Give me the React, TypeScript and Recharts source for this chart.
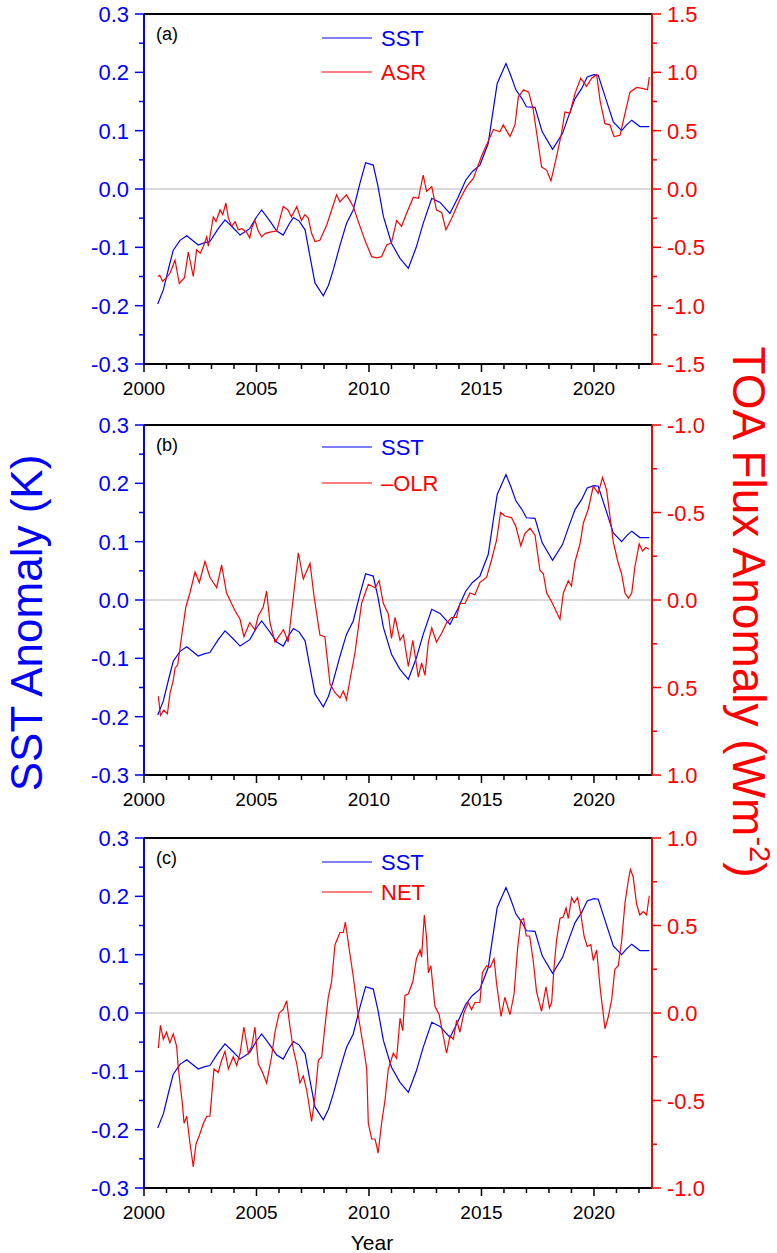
import React from 'react';
import { LineChart, Line, XAxis, YAxis, ReferenceLine } from 'recharts';

const FONT = '"Liberation Sans", Arial, Helvetica, sans-serif';
const BLUE = '#0000ff';
const RED = '#ff0000';

// tick positions (minor + major)
const YEAR_TICKS = [2000, 2001, 2002, 2003, 2004, 2005, 2006, 2007, 2008, 2009, 2010, 2011, 2012, 2013, 2014, 2015, 2016, 2017, 2018, 2019, 2020, 2021, 2022];
const SST_TICKS = [-0.3, -0.25, -0.2, -0.15, -0.1, -0.05, 0, 0.05, 0.1, 0.15, 0.2, 0.25, 0.3];
const ASR_TICKS = [-1.5, -1.25, -1, -0.75, -0.5, -0.25, 0, 0.25, 0.5, 0.75, 1, 1.25, 1.5];
const FLUX_TICKS = [-1, -0.75, -0.5, -0.25, 0, 0.25, 0.5, 0.75, 1];

// [year, anomaly]
const SST: [number, number][] = [
    [2000.61, -0.197], [2000.86, -0.173], [2001.1, -0.135], [2001.3, -0.105], [2001.6, -0.088], [2001.9, -0.08],
    [2002.15, -0.088], [2002.41, -0.096], [2002.7, -0.092], [2002.93, -0.09], [2003.3, -0.068], [2003.6, -0.053],
    [2003.95, -0.066], [2004.27, -0.079], [2004.7, -0.068], [2005.0, -0.048], [2005.23, -0.036], [2005.6, -0.055],
    [2005.9, -0.072], [2006.19, -0.079], [2006.45, -0.06], [2006.64, -0.049], [2006.9, -0.055], [2007.16, -0.07],
    [2007.35, -0.11], [2007.6, -0.161], [2007.97, -0.183], [2008.2, -0.165], [2008.41, -0.139], [2008.7, -0.098],
    [2009.0, -0.059], [2009.3, -0.036], [2009.6, 0.01], [2009.85, 0.045], [2010.19, 0.041], [2010.4, 0.005],
    [2010.64, -0.047], [2011.0, -0.093], [2011.38, -0.119], [2011.75, -0.136], [2012.1, -0.1], [2012.41, -0.059],
    [2012.79, -0.016], [2013.16, -0.023], [2013.6, -0.042], [2013.95, -0.015], [2014.3, 0.015], [2014.6, 0.03],
    [2014.93, 0.041], [2015.3, 0.078], [2015.5, 0.13], [2015.7, 0.181], [2016.09, 0.215], [2016.3, 0.195],
    [2016.53, 0.17], [2016.8, 0.155], [2017.0, 0.141], [2017.38, 0.14], [2017.7, 0.098], [2018.16, 0.068],
    [2018.6, 0.095], [2018.9, 0.128], [2019.16, 0.155], [2019.45, 0.172], [2019.7, 0.192], [2020.0, 0.196],
    [2020.19, 0.195], [2020.5, 0.158], [2020.86, 0.115], [2021.23, 0.1], [2021.45, 0.11], [2021.68, 0.118],
    [2022.04, 0.107], [2022.46, 0.107],
];

const ASR: [number, number][] = [
    [2000.61, -0.75], [2000.7, -0.74], [2000.83, -0.79], [2001.0, -0.76], [2001.16, -0.72], [2001.38, -0.61],
    [2001.57, -0.81], [2001.8, -0.76], [2001.97, -0.54], [2002.19, -0.75], [2002.34, -0.52], [2002.5, -0.55],
    [2002.64, -0.49], [2002.79, -0.41], [2002.86, -0.49], [2003.08, -0.24], [2003.2, -0.28], [2003.38, -0.18],
    [2003.5, -0.22], [2003.64, -0.12], [2003.75, -0.25], [2003.9, -0.32], [2004.05, -0.28], [2004.19, -0.35],
    [2004.35, -0.34], [2004.56, -0.37], [2004.7, -0.42], [2004.8, -0.33], [2004.93, -0.27], [2005.08, -0.36],
    [2005.23, -0.41], [2005.4, -0.38], [2005.6, -0.37], [2005.9, -0.36], [2006.05, -0.25], [2006.19, -0.15],
    [2006.4, -0.18], [2006.55, -0.24], [2006.79, -0.15], [2007.0, -0.27], [2007.15, -0.22], [2007.3, -0.25],
    [2007.45, -0.38], [2007.6, -0.45], [2007.82, -0.44], [2008.0, -0.36], [2008.12, -0.31], [2008.34, -0.18],
    [2008.56, -0.05], [2008.71, -0.11], [2008.85, -0.08], [2009.0, -0.05], [2009.15, -0.1], [2009.3, -0.15],
    [2009.6, -0.32], [2009.82, -0.44], [2010.12, -0.58], [2010.34, -0.59], [2010.56, -0.58], [2010.79, -0.48],
    [2011.0, -0.46], [2011.23, -0.27], [2011.45, -0.32], [2011.67, -0.21], [2011.97, -0.07], [2012.2, -0.08],
    [2012.41, 0.12], [2012.56, -0.02], [2012.79, 0.02], [2013.0, -0.18], [2013.23, -0.2], [2013.42, -0.35],
    [2013.68, -0.25], [2014.04, -0.09], [2014.34, 0.02], [2014.64, 0.09], [2015.0, 0.28], [2015.3, 0.41],
    [2015.53, 0.51], [2015.82, 0.49], [2015.97, 0.55], [2016.27, 0.45], [2016.49, 0.55], [2016.64, 0.79],
    [2016.87, 0.85], [2017.1, 0.83], [2017.3, 0.68], [2017.5, 0.42], [2017.67, 0.19], [2017.9, 0.16],
    [2018.09, 0.07], [2018.34, 0.28], [2018.56, 0.48], [2018.71, 0.66], [2018.93, 0.65], [2019.16, 0.82],
    [2019.41, 0.95], [2019.67, 0.88], [2019.9, 0.95], [2020.12, 0.98], [2020.27, 0.76], [2020.49, 0.56],
    [2020.71, 0.55], [2020.89, 0.45], [2021.16, 0.46], [2021.3, 0.58], [2021.6, 0.83], [2021.9, 0.87],
    [2022.2, 0.86], [2022.38, 0.85], [2022.46, 0.96],
];

// values as read on the (reversed) right axis of panel b
const OLR: [number, number][] = [
    [2000.64, 0.55], [2000.73, 0.66], [2000.88, 0.63], [2001.04, 0.65], [2001.16, 0.53], [2001.3, 0.46],
    [2001.38, 0.39], [2001.5, 0.37], [2001.67, 0.21], [2001.86, 0.04], [2002.04, -0.04], [2002.27, -0.16],
    [2002.46, -0.1], [2002.71, -0.22], [2002.93, -0.13], [2003.23, -0.07], [2003.45, -0.2], [2003.67, -0.04],
    [2004.04, 0.06], [2004.27, 0.11], [2004.44, 0.21], [2004.7, 0.13], [2004.93, 0.17], [2005.08, 0.09],
    [2005.3, 0.04], [2005.45, -0.05], [2005.6, 0.13], [2005.82, 0.24], [2006.2, 0.17], [2006.41, 0.24],
    [2006.64, -0.02], [2006.86, -0.27], [2007.08, -0.12], [2007.38, -0.21], [2007.56, -0.02], [2007.82, 0.2],
    [2008.04, 0.21], [2008.27, 0.48], [2008.49, 0.53], [2008.71, 0.56], [2008.86, 0.52], [2009.0, 0.57],
    [2009.15, 0.46], [2009.38, 0.3], [2009.67, 0.02], [2009.97, -0.09], [2010.27, -0.07], [2010.45, -0.11],
    [2010.64, 0.02], [2010.86, 0.08], [2011.0, 0.22], [2011.16, 0.1], [2011.38, 0.23], [2011.53, 0.2],
    [2011.75, 0.38], [2011.95, 0.23], [2012.19, 0.44], [2012.34, 0.36], [2012.49, 0.43], [2012.64, 0.24],
    [2012.79, 0.16], [2013.0, 0.24], [2013.23, 0.19], [2013.45, 0.13], [2013.67, 0.1], [2013.89, 0.1],
    [2014.04, 0.02], [2014.27, 0.02], [2014.49, -0.04], [2014.71, -0.03], [2014.93, -0.1], [2015.23, -0.13],
    [2015.45, -0.23], [2015.67, -0.34], [2015.85, -0.5], [2016.04, -0.48], [2016.34, -0.47], [2016.53, -0.42],
    [2016.75, -0.31], [2016.93, -0.38], [2017.16, -0.41], [2017.38, -0.37], [2017.6, -0.17], [2017.75, -0.15],
    [2017.9, -0.04], [2018.12, 0.01], [2018.34, 0.07], [2018.49, 0.11], [2018.64, -0.04], [2018.86, -0.11],
    [2019.0, -0.08], [2019.16, -0.22], [2019.38, -0.32], [2019.53, -0.44], [2019.75, -0.52], [2019.97, -0.65],
    [2020.19, -0.61], [2020.38, -0.7], [2020.56, -0.63], [2020.71, -0.48], [2020.86, -0.33], [2021.08, -0.21],
    [2021.23, -0.15], [2021.38, -0.04], [2021.53, -0.01], [2021.68, -0.04], [2021.82, -0.19], [2022.01, -0.32],
    [2022.16, -0.28], [2022.3, -0.3], [2022.46, -0.29],
];

const NET: [number, number][] = [
    [2000.64, -0.2], [2000.73, -0.07], [2000.86, -0.15], [2001.0, -0.11], [2001.15, -0.17], [2001.3, -0.12],
    [2001.45, -0.19], [2001.53, -0.32], [2001.7, -0.51], [2001.78, -0.63], [2001.9, -0.59], [2002.04, -0.74],
    [2002.19, -0.88], [2002.31, -0.75], [2002.46, -0.7], [2002.64, -0.63], [2002.79, -0.59], [2002.93, -0.59],
    [2003.11, -0.32], [2003.3, -0.34], [2003.45, -0.27], [2003.6, -0.22], [2003.75, -0.32], [2003.97, -0.25],
    [2004.12, -0.3], [2004.27, -0.23], [2004.44, -0.08], [2004.64, -0.23], [2004.79, -0.19], [2004.93, -0.08],
    [2005.08, -0.29], [2005.27, -0.34], [2005.45, -0.4], [2005.67, -0.25], [2005.82, -0.11], [2006.01, 0.0],
    [2006.19, 0.02], [2006.34, 0.07], [2006.49, -0.08], [2006.64, -0.21], [2006.79, -0.29], [2006.93, -0.4],
    [2007.08, -0.36], [2007.23, -0.44], [2007.45, -0.62], [2007.6, -0.48], [2007.75, -0.27], [2007.9, -0.25],
    [2008.04, -0.08], [2008.19, 0.09], [2008.34, 0.18], [2008.49, 0.39], [2008.71, 0.46], [2008.86, 0.46],
    [2008.95, 0.52], [2009.15, 0.34], [2009.3, 0.21], [2009.53, -0.02], [2009.75, -0.19], [2009.9, -0.32],
    [2009.97, -0.63], [2010.12, -0.72], [2010.27, -0.72], [2010.41, -0.8], [2010.56, -0.63], [2010.71, -0.5],
    [2010.86, -0.32], [2011.08, -0.23], [2011.23, -0.26], [2011.38, -0.03], [2011.5, -0.1], [2011.6, 0.1],
    [2011.75, 0.11], [2011.95, 0.18], [2012.11, 0.31], [2012.27, 0.36], [2012.34, 0.32], [2012.46, 0.56],
    [2012.56, 0.43], [2012.64, 0.23], [2012.75, 0.27], [2012.93, 0.04], [2013.12, -0.01], [2013.3, -0.13],
    [2013.45, -0.23], [2013.6, -0.13], [2013.75, -0.15], [2013.9, -0.04], [2014.04, -0.11], [2014.22, 0.0],
    [2014.41, 0.06], [2014.56, 0.02], [2014.71, 0.06], [2014.93, 0.06], [2015.04, 0.23], [2015.23, 0.27],
    [2015.38, 0.26], [2015.56, 0.31], [2015.67, 0.17], [2015.87, -0.02], [2016.04, 0.09], [2016.27, -0.01],
    [2016.45, 0.11], [2016.6, 0.36], [2016.75, 0.53], [2016.87, 0.54], [2016.99, 0.44], [2017.14, 0.44],
    [2017.3, 0.3], [2017.45, 0.12], [2017.67, 0.01], [2017.87, 0.15], [2018.02, 0.03], [2018.12, 0.06],
    [2018.22, 0.25], [2018.34, 0.42], [2018.49, 0.54], [2018.64, 0.55], [2018.76, 0.6], [2018.86, 0.54],
    [2019.01, 0.66], [2019.12, 0.63], [2019.27, 0.66], [2019.41, 0.57], [2019.56, 0.44], [2019.7, 0.38],
    [2019.86, 0.39], [2019.97, 0.3], [2020.12, 0.36], [2020.27, 0.15], [2020.49, -0.09], [2020.64, -0.02],
    [2020.79, 0.08], [2020.93, 0.25], [2021.08, 0.27], [2021.23, 0.41], [2021.38, 0.63], [2021.53, 0.76],
    [2021.62, 0.82], [2021.74, 0.78], [2021.9, 0.62], [2022.04, 0.56], [2022.19, 0.58], [2022.34, 0.56],
    [2022.46, 0.67],
];

const toRows = (pts: [number, number][]) => pts.map(([x, v]) => ({ x, v }));
const SST_ROWS = toRows(SST);

const isMultiple = (v: number, step: number) => Math.abs(v / step - Math.round(v / step)) < 1e-6;

function XTick(props: any) {
    const { x, y, payload } = props;
    const major = payload.value % 5 === 0;
    return (
        <g>
            <line x1={x} x2={x} y1={y} y2={y + (major ? 8 : 5)} stroke="#000" strokeWidth={1.5} />
            {major && (
                <text x={x} y={y + 31} textAnchor="middle" fontSize={19} fontFamily={FONT} fill="#000">
                    {payload.value}
                </text>
            )}
        </g>
    );
}

function YTick(props: any) {
    const { x, y, payload, side, color, step } = props;
    const major = isMultiple(payload.value, step);
    const dir = side === 'left' ? -1 : 1;
    return (
        <g>
            <line x1={x} x2={x + dir * (major ? 9 : 5)} y1={y} y2={y} stroke={color} strokeWidth={1.5} />
            {major && (
                <text
                    x={x + dir * 15}
                    y={y + 8}
                    textAnchor={side === 'left' ? 'end' : 'start'}
                    fontSize={22}
                    fontFamily={FONT}
                    fill={color}
                >
                    {payload.value.toFixed(1)}
                </text>
            )}
        </g>
    );
}

interface PanelProps {
    top: number;
    label: string;
    redName: string;
    redData: [number, number][];
    rightDomain: [number, number];
    rightTicks: number[];
    rightStep: number;
    reversed?: boolean;
    legendY: [number, number];
}

function Panel({ top, label, redName, redData, rightDomain, rightTicks, rightStep, reversed, legendY }: PanelProps) {
    return (
        <div style={{ position: 'absolute', left: 0, top, width: 777, height: 400 }}>
            <LineChart width={777} height={400} margin={{ top: 14, right: 0, bottom: 0, left: 0 }}>
                <XAxis
                    type="number"
                    dataKey="x"
                    domain={[2000, 2022.58]}
                    allowDataOverflow
                    ticks={YEAR_TICKS}
                    interval={0}
                    height={36}
                    tickSize={0}
                    tickMargin={0}
                    tickLine={false}
                    axisLine={{ stroke: '#000', strokeWidth: 2 }}
                    tick={(p: any) => <XTick {...p} />}
                />
                <YAxis
                    yAxisId="left"
                    orientation="left"
                    width={144}
                    domain={[-0.3, 0.3]}
                    ticks={SST_TICKS}
                    interval={0}
                    tickSize={0}
                    tickMargin={0}
                    tickLine={false}
                    axisLine={{ stroke: BLUE, strokeWidth: 2 }}
                    tick={(p: any) => <YTick {...p} side="left" color={BLUE} step={0.1} />}
                />
                <YAxis
                    yAxisId="right"
                    orientation="right"
                    width={125}
                    domain={rightDomain}
                    reversed={reversed}
                    ticks={rightTicks}
                    interval={0}
                    tickSize={0}
                    tickMargin={0}
                    tickLine={false}
                    axisLine={{ stroke: RED, strokeWidth: 2 }}
                    tick={(p: any) => <YTick {...p} side="right" color={RED} step={rightStep} />}
                />
                <ReferenceLine yAxisId="left" y={0} stroke="#b4b4b4" strokeWidth={1} />
                <ReferenceLine yAxisId="left" y={0.3} stroke="#000" strokeWidth={2} />
                <Line
                    yAxisId="left"
                    data={SST_ROWS}
                    dataKey="v"
                    type="linear"
                    stroke={BLUE}
                    strokeWidth={1.2}
                    dot={false}
                    isAnimationActive={false}
                />
                <Line
                    yAxisId="right"
                    data={toRows(redData)}
                    dataKey="v"
                    type="linear"
                    stroke={RED}
                    strokeWidth={1.2}
                    dot={false}
                    isAnimationActive={false}
                />
            </LineChart>
            <svg
                width={777}
                height={400}
                style={{ position: 'absolute', left: 0, top: 0, pointerEvents: 'none' }}
                fontFamily={FONT}
            >
                <text x={156} y={40} fontSize={18} fill="#000">{label}</text>
                <line x1={322} x2={372} y1={legendY[0]} y2={legendY[0]} stroke={BLUE} strokeWidth={1.2} />
                <text x={381} y={legendY[0] + 8} fontSize={22} fill={BLUE}>SST</text>
                <line x1={322} x2={372} y1={legendY[1]} y2={legendY[1]} stroke={RED} strokeWidth={1.2} />
                <text x={381} y={legendY[1] + 8} fontSize={22} fill={RED}>{redName}</text>
            </svg>
        </div>
    );
}

export default function App() {
    return (
        <div style={{ position: 'absolute', left: 0, top: 0, width: 777, height: 1253, background: '#fff' }}>
            <Panel
                top={0}
                label="(a)"
                redName="ASR"
                redData={ASR}
                rightDomain={[-1.5, 1.5]}
                rightTicks={ASR_TICKS}
                rightStep={0.5}
                legendY={[38, 72]}
            />
            <Panel
                top={411}
                label="(b)"
                redName="–OLR"
                redData={OLR}
                rightDomain={[-1, 1]}
                rightTicks={FLUX_TICKS}
                rightStep={0.5}
                reversed
                legendY={[36, 72]}
            />
            <Panel
                top={824}
                label="(c)"
                redName="NET"
                redData={NET}
                rightDomain={[-1, 1]}
                rightTicks={FLUX_TICKS}
                rightStep={0.5}
                legendY={[38, 68]}
            />
            <svg
                width={777}
                height={1253}
                style={{ position: 'absolute', left: 0, top: 0, pointerEvents: 'none' }}
                fontFamily={FONT}
            >
                <text
                    x={42}
                    y={623}
                    transform="rotate(-90 42 623)"
                    textAnchor="middle"
                    fontSize={44}
                    fill={BLUE}
                >
                    SST Anomaly (K)
                </text>
                <text
                    x={733}
                    y={612}
                    transform="rotate(90 733 612)"
                    textAnchor="middle"
                    fontSize={46}
                    fill={RED}
                >
                    TOA Flux Anomaly (Wm
                    <tspan dy={-17} fontSize={29}>-2</tspan>
                    <tspan dy={17}>)</tspan>
                </text>
                <text x={372} y={1250} textAnchor="middle" fontSize={21} fill="#000">Year</text>
            </svg>
        </div>
    );
}
